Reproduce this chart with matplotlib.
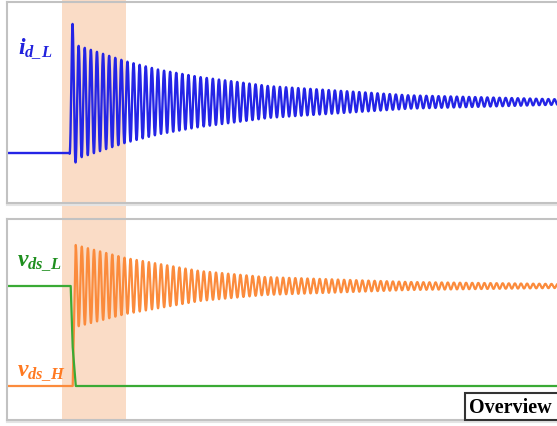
"""Switching transient overview: low-side drain current and both drain-source voltages."""

import matplotlib
matplotlib.use("Agg")
import matplotlib.pyplot as plt
import numpy as np
from matplotlib import transforms
from matplotlib.patches import Rectangle

plt.rcParams["mathtext.fontset"] = "custom"
plt.rcParams["mathtext.it"] = "Liberation Serif:bold:italic"
plt.rcParams["mathtext.rm"] = "Liberation Serif:bold:italic"
plt.rcParams["mathtext.bf"] = "Liberation Serif:bold:italic"

# time axis in ns
T_END = 560.0
T_RING = 6.1            # ringing period
BAND = (55.0, 119.0)    # highlighted switching interval

# i_d_L (A): flat before turn-on, then rings around I_RING
I_BASE = 0.0
I_RING = 10.0
T_ON = 62.5
i_env_t = [0, 3.05, 6.1, 9.15, 56, 90, 130, 200, 340, 495]        # ns after T_ON
i_env = [10.0, 15.3, 11.8, 11.0, 8.0, 6.3, 4.9, 3.1, 1.3, 0.5]    # A

# v_ds (V)
V_DC = 400.0
vl_t = [0, 63.7, 65.7, 68.8, T_END]
vl_v = [V_DC, V_DC, 155, 0, 0]
VH_RISE = 65.7
VH_PEAK = 68.7
vh_env_t = [0, 50, 84, 124, 189, 334, 485]     # ns after VH_PEAK
vh_env = [164, 112, 88, 60, 36, 16, 8]         # V

BLUE = "#2424e6"
ORANGE = "#fb8b3c"
GREEN = "#3aaa35"


def ring(t, t0, center, env_t, env, sign):
    tau = t - t0
    return center + sign * np.interp(tau, env_t, env) * np.cos(2 * np.pi * tau / T_RING)


fig = plt.figure(figsize=(5.57, 4.27), dpi=100)
ax_i = fig.add_axes([7 / 557, 1 - 204 / 427, 560 / 557, 201 / 427])
ax_v = fig.add_axes([7 / 557, 1 - 421 / 427, 560 / 557, 201 / 427])

for ax in (ax_i, ax_v):
    ax.set_facecolor("none")
    ax.set_xlim(0, T_END)
    ax.set_xticks([]); ax.set_yticks([])
    for s in ax.spines.values():
        s.set_color("#c2c2c2")
        s.set_linewidth(1.5)
    # faint drop shadow under the frame
    sh = transforms.offset_copy(ax.transAxes, fig=fig, x=0, y=-2, units="dots")
    ax.plot([0, 1], [0, 0], transform=sh, color="#e4e4e4", lw=1.5, clip_on=False)

ax_i.set_ylim(-9.8, 29.6)
ax_v.set_ylim(-136, 668)

# shaded interval runs through both panels
band_tr = transforms.blended_transform_factory(ax_i.transData, fig.transFigure)
fig.add_artist(Rectangle((BAND[0], 1 - 421 / 427), BAND[1] - BAND[0], 421 / 427,
                         transform=band_tr, facecolor="#fadcc6", edgecolor="none",
                         zorder=-1))

# drain current
t_r = np.arange(T_ON, T_END, 0.05)
ax_i.plot(np.r_[0, t_r], np.r_[I_BASE, ring(t_r, T_ON, I_RING, i_env_t, i_env, -1)],
          color=BLUE, lw=1.7, solid_joinstyle="round")

# drain-source voltages
t_h = np.arange(VH_PEAK, T_END, 0.05)
ax_v.plot(np.r_[0, VH_RISE, t_h],
          np.r_[0, 0, ring(t_h, VH_PEAK, V_DC, vh_env_t, vh_env, 1)],
          color=ORANGE, lw=1.6, solid_joinstyle="round")
ax_v.plot(vl_t, vl_v, color=GREEN, lw=1.6)

ax_i.text(0.019, 0.745, r"$i_{d\_L}$", transform=ax_i.transAxes, color="#2222dd",
          fontsize=17, va="baseline", ha="left")
ax_v.text(0.017, 0.772, r"$v_{ds\_L}$", transform=ax_v.transAxes, color="#1f8f1f",
          fontsize=17, va="baseline", ha="left")
ax_v.text(0.017, 0.225, r"$v_{ds\_H}$", transform=ax_v.transAxes, color="#ff7a22",
          fontsize=17, va="baseline", ha="left")

# tab label in the lower right corner, running off the edge
fig.add_artist(Rectangle((465 / 557, 1 - 421 / 427), 100 / 557, 27 / 427,
                         transform=fig.transFigure, facecolor="white",
                         edgecolor="#333333", linewidth=1.5))
fig.text(469 / 557, 1 - 408 / 427, "Overview", family="Liberation Serif",
         weight="bold", fontsize=14.5, va="center", ha="left", color="black")

fig.savefig("out.png", dpi=100)
